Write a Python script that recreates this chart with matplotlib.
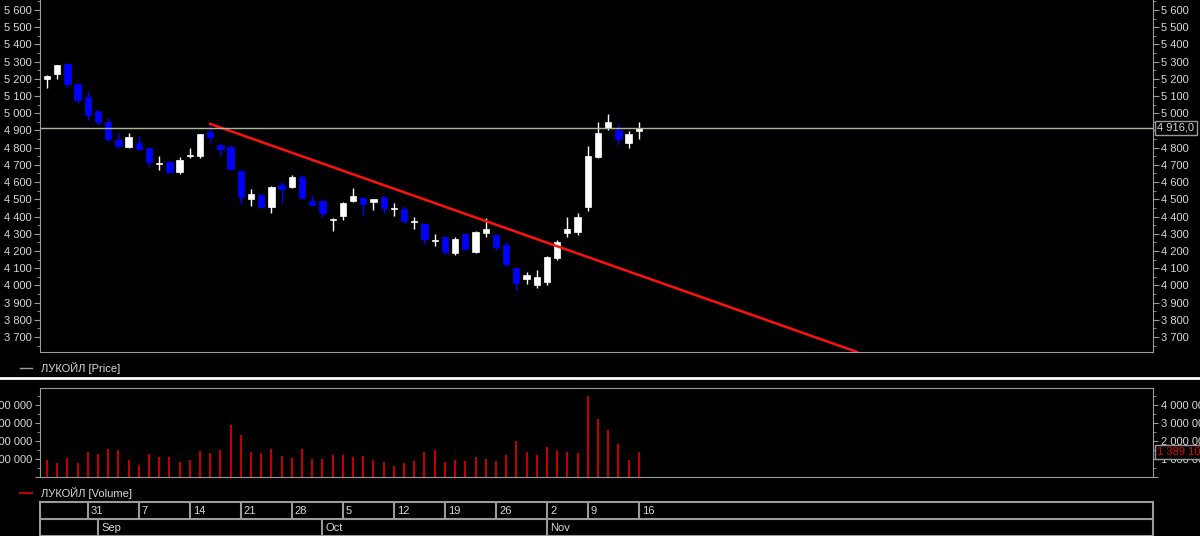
import matplotlib.pyplot as plt
from matplotlib.ticker import MultipleLocator, FuncFormatter
from matplotlib.lines import Line2D
from matplotlib.patches import Rectangle

# trading days 25 Aug .. 16 Nov (Nov 4 holiday)
opens = [5197, 5228, 5286, 5172, 5095, 5013, 4951, 4845, 4804, 4827,
         4798, 4705, 4717, 4659, 4752, 4752, 4890, 4815, 4804, 4666,
         4502, 4525, 4456, 4583, 4572, 4630, 4490, 4490, 4380, 4403,
         4490, 4508, 4484, 4514, 4444, 4444, 4370, 4357, 4258, 4281,
         4188, 4298, 4194, 4304, 4293, 4235, 4101, 4037, 4002, 4020,
         4161, 4304, 4310, 4455, 4746, 4914, 4903, 4827, 4897]
closes = [5217, 5279, 5170, 5077, 4990, 4951, 4850, 4810, 4862, 4792,
          4717, 4705, 4659, 4730, 4752, 4878, 4860, 4792, 4676, 4514,
          4531, 4456, 4572, 4560, 4630, 4508, 4465, 4420, 4380, 4480,
          4521, 4473, 4502, 4450, 4444, 4374, 4370, 4270, 4258, 4194,
          4270, 4212, 4310, 4327, 4223, 4124, 4014, 4060, 4049, 4165,
          4254, 4327, 4397, 4753, 4885, 4949, 4850, 4880, 4914]
highs = [5225, 5282, 5288, 5175, 5128, 5015, 4970, 4893, 4885, 4870,
         4800, 4752, 4730, 4745, 4800, 4880, 4925, 4820, 4815, 4668,
         4558, 4530, 4580, 4600, 4640, 4640, 4525, 4500, 4392, 4485,
         4566, 4512, 4504, 4520, 4480, 4460, 4400, 4360, 4300, 4285,
         4280, 4300, 4315, 4392, 4296, 4250, 4103, 4080, 4090, 4170,
         4265, 4398, 4420, 4811, 4947, 4996, 4937, 4898, 4949]
lows = [5147, 5200, 5154, 5060, 4961, 4933, 4833, 4800, 4800, 4788,
        4690, 4670, 4651, 4648, 4740, 4740, 4830, 4752, 4670, 4470,
        4464, 4450, 4420, 4480, 4565, 4500, 4460, 4400, 4316, 4380,
        4482, 4403, 4440, 4420, 4405, 4365, 4330, 4240, 4226, 4180,
        4175, 4205, 4190, 4280, 4200, 4115, 3974, 4010, 3986, 4000,
        4150, 4280, 4290, 4431, 4739, 4905, 4818, 4798, 4850]
volumes = [0.95, 0.79, 1.04, 0.79, 1.41, 1.30, 1.55, 1.50, 0.95, 0.66,
           1.29, 1.09, 1.09, 0.82, 0.96, 1.46, 1.34, 1.52, 2.91, 2.32,
           1.41, 1.34, 1.57, 1.16, 1.04, 1.57, 0.98, 0.98, 1.20, 1.20,
           1.12, 1.16, 0.95, 0.82, 0.63, 0.79, 0.91, 1.41, 1.48, 0.84,
           0.95, 0.88, 1.09, 1.00, 0.88, 1.20, 1.98, 1.38, 1.20, 1.68,
           1.50, 1.38, 1.34, 4.52, 3.23, 2.64, 1.84, 0.95, 1.389]
last_price = 4916.0
trend_x = [16.0, 79.4]
trend_y = [4938, 3613]
week_idx = [4, 9, 14, 19, 24, 29, 34, 39, 44, 49, 53, 58]
week_labels = ["31", "7", "14", "21", "28", "5", "12", "19", "26", "2", "9", "16"]
month_idx = [5, 27, 49]
month_labels = ["Sep", "Oct", "Nov"]

XMIN, XMAX = -0.69, 108.4
FG = "#d8d8d8"
GRID = "#9a9a9a"
plt.rcParams["font.family"] = ["Liberation Sans", "DejaVu Sans"]

fig = plt.figure(figsize=(12, 5.36), dpi=100, facecolor="black")
ax = fig.add_axes([0.0333, 0.3433, 0.9275, 0.6567], facecolor="black")
axv = fig.add_axes([0.0333, 0.1101, 0.9275, 0.166], facecolor="black")
axd = fig.add_axes([0.0333, 0.0, 0.9275, 0.0634], facecolor="black")


def thousands(v, _):
    return f"{int(round(v)):,}".replace(",", " ")


# price candles
idx = list(range(len(opens)))
for i, o, c, h, l in zip(idx, opens, closes, highs, lows):
    col = "white" if c >= o else "#0000ff"
    ax.vlines(i, l, h, color=col, linewidth=1)
    body = max(abs(c - o), 4)
    ax.bar(i, body, bottom=min(o, c), width=0.62, color=col, edgecolor=col, linewidth=0.5)

ax.plot(trend_x, trend_y, color="#ff1010", linewidth=1.8)
ax.axhline(last_price, color="#a8b898", linewidth=1)
ax.set_xlim(XMIN, XMAX)
ax.set_ylim(3613, 5658)
ax.yaxis.set_major_locator(MultipleLocator(100))
ax.yaxis.set_minor_locator(MultipleLocator(50))
ax.yaxis.set_major_formatter(FuncFormatter(thousands))
ax.tick_params(axis="y", which="both", left=True, right=True, labelleft=True,
               labelright=True, colors=GRID, labelcolor=FG, labelsize=8, pad=2)
ax.tick_params(axis="y", which="major", length=4)
ax.tick_params(axis="y", which="minor", length=2)
ax.set_xticks([])
for sp in ax.spines.values():
    sp.set_color(GRID)
ax.spines["top"].set_visible(False)
ax.text(1.004, last_price, "4 916,0", transform=ax.get_yaxis_transform(), color=FG,
        fontsize=8, va="center", ha="left", zorder=20,
        bbox=dict(facecolor="black", edgecolor=GRID, pad=1.5))

# volume
axv.vlines(idx, 0, volumes, color="#c00000", linewidth=1.5)
axv.set_xlim(XMIN, XMAX)
axv.set_ylim(0, 4.95)
axv.yaxis.set_major_locator(MultipleLocator(1))
axv.yaxis.set_minor_locator(MultipleLocator(0.5))
axv.yaxis.set_major_formatter(FuncFormatter(lambda v, _: thousands(v * 1e6, _) if v > 0 else ""))
axv.tick_params(axis="y", which="both", left=True, right=True, labelleft=True,
                labelright=True, colors=GRID, labelcolor=FG, labelsize=8, pad=2)
axv.tick_params(axis="y", which="minor", length=2)
axv.set_xticks([])
for sp in axv.spines.values():
    sp.set_color(GRID)
axv.text(1.004, volumes[-1], "1 389 100", transform=axv.get_yaxis_transform(), color="#e00000",
         fontsize=8, va="center", ha="left", zorder=20,
         bbox=dict(facecolor="black", edgecolor=GRID, pad=1.5))

# date axis grid
axd.set_xlim(XMIN, XMAX)
axd.set_ylim(0, 2)
axd.axis("off")
axd.add_patch(Rectangle((XMIN, 0), XMAX - XMIN, 2, fill=False, edgecolor=GRID, linewidth=1.5, clip_on=False))
axd.axhline(1, color=GRID, linewidth=1.5)
for i, lab in zip(week_idx, week_labels):
    axd.vlines(i, 1, 2, color=GRID, linewidth=1.5)
    axd.text(i + 0.3, 1.5, lab, color=FG, fontsize=8, va="center", ha="left")
for i, lab in zip(month_idx, month_labels):
    axd.vlines(i, 0, 1, color=GRID, linewidth=1.5)
    axd.text(i + 0.3, 0.45, lab, color=FG, fontsize=8, va="center", ha="left")

# legends and separator
fig.add_artist(Line2D([0.0, 1.0], [1 - 378 / 536] * 2, color="white", linewidth=2))
fig.add_artist(Line2D([0.017, 0.027], [1 - 368 / 536] * 2, color=GRID, linewidth=1))
fig.text(0.034, 1 - 368 / 536, "ЛУКОЙЛ [Price]", color=FG, fontsize=8, va="center")
fig.add_artist(Line2D([0.017, 0.027], [1 - 493 / 536] * 2, color="#c00000", linewidth=1.5))
fig.text(0.034, 1 - 493 / 536, "ЛУКОЙЛ [Volume]", color=FG, fontsize=8, va="center")

fig.savefig("out.png", dpi=100, facecolor="black")
